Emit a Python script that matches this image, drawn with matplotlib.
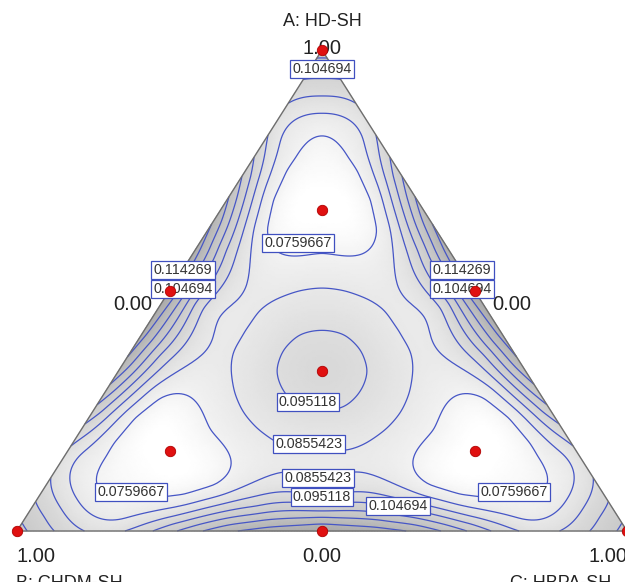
import itertools
import numpy as np
import matplotlib
matplotlib.use("Agg")
import matplotlib.pyplot as plt
import matplotlib.tri as mtri
from matplotlib.colors import LinearSegmentedColormap

plt.rcParams['font.family'] = ['Liberation Sans', 'DejaVu Sans']

# ---------------- data ----------------
axis_names = ["A: HD-SH", "B: CHDM-SH", "C: HBPA-SH"]

# design points (mixture proportions A, B, C)
design_A = [1.0, 0.0, 0.0, 0.5, 0.5, 0.0, 1/3, 2/3, 1/6, 1/6]
design_B = [0.0, 1.0, 0.0, 0.5, 0.0, 0.5, 1/3, 1/6, 2/3, 1/6]
design_C = [0.0, 0.0, 1.0, 0.0, 0.5, 0.5, 1/3, 1/6, 1/6, 2/3]

contour_levels = [0.0759667, 0.0855423, 0.095118, 0.104694, 0.114269, 0.123845, 0.13342]

# response read off the picture along the median centroid -> vertex
# (s = 0 centroid, 1 axial blend, 2 pure component)
vert_s = [0.0, 0.25, 0.52, 0.75, 1.0, 1.2, 1.46, 1.6, 1.71, 1.81, 1.95, 2.0]
vert_y = [0.0995, 0.0951, 0.0855, 0.0760, 0.0685, 0.0705, 0.0760, 0.0855, 0.0951,
          0.1047, 0.1143, 0.1180]
# along the median centroid -> opposite edge midpoint (s = 1 at the edge)
side_s = [0.26, 0.52, 0.60, 0.675, 0.79, 0.84, 0.875, 0.91, 0.95, 1.0]
side_y = [0.0951, 0.0855, 0.0830, 0.0855, 0.0951, 0.1047, 0.1143, 0.1238, 0.1334, 0.143]
# along a binary edge (C = 0), A from the edge midpoint to the vertex
edge_A = [0.5, 0.6, 0.65, 0.7, 0.74, 0.78, 0.82, 0.855, 0.89, 0.94, 0.984]
edge_y = [0.143, 0.137, 0.1334, 0.1238, 0.1143, 0.1047, 0.0960, 0.0915, 0.0951,
          0.1047, 0.1143]
# further readings (A, B, C) -> response: contour loop around an axial blend,
# the two rings round the centroid, lines along an edge and in a corner
extra_A = [0.2863, 0.2376, 0.1268, 0.0921, 0.0713, 0.0748, 0.0921, 0.1337, 0.2723,
           0.4138, 0.3922, 0.3337, 0.5007, 0.4560, 0.3333,
           0.583, 0.583, 0.583, 0.583,
           0.048, 0.029, 0.0166,
           0.819, 0.7505]
extra_B = [0.6006, 0.6906, 0.8006, 0.8261, 0.7737, 0.7064, 0.6266, 0.5840, 0.5749,
           0.2744, 0.2528, 0.2563, 0.2107, 0.1660, 0.1833,
           0.0085, 0.024, 0.037, 0.049,
           0.720, 0.730, 0.7364,
           0.1594, 0.1855]
extra_C = [0.1131, 0.0718, 0.0726, 0.0818, 0.1550, 0.2188, 0.2813, 0.2823, 0.1528,
           0.3117, 0.3549, 0.4100, 0.2884, 0.3780, 0.4834,
           0.4085, 0.393, 0.380, 0.368,
           0.232, 0.241, 0.247,
           0.0216, 0.0640]
extra_y = [0.0760, 0.0760, 0.0760, 0.0760, 0.0760, 0.0760, 0.0760, 0.0760, 0.0760,
           0.0951, 0.0951, 0.0951, 0.0855, 0.0855, 0.0855,
           0.1334, 0.1238, 0.1143, 0.1047,
           0.0855, 0.0951, 0.1047,
           0.0855, 0.0760]

# contour labels shown on the chart
label_text = ["0.104694", "0.0759667", "0.114269", "0.104694", "0.114269", "0.104694",
              "0.095118", "0.0855423", "0.0855423", "0.095118", "0.104694",
              "0.0759667", "0.0759667"]

# ---------------- layout ----------------
VA = np.array([322.0, 50.0])
VB = np.array([17.0, 531.0])
VC = np.array([627.0, 531.0])

label_pos = [(322, 69), (298, 243), (183, 270), (183, 289), (462, 270), (462, 289),
             (308, 402), (309, 444), (318, 478), (322, 497), (398, 506),
             (131, 492), (514, 492)]


def to_xy(A, B, C):
    A, B, C = np.asarray(A, float), np.asarray(B, float), np.asarray(C, float)
    x = A * VA[0] + B * VB[0] + C * VC[0]
    y = A * VA[1] + B * VB[1] + C * VC[1]
    return x, y


def to_eq(A, B, C):
    # equilateral simplex coordinates (side 1) used for the response surface
    A, C = np.asarray(A, float), np.asarray(C, float)
    return C + 0.5 * A, A * np.sqrt(3) / 2


# ---- assemble readings (the mixture surface is symmetric in A, B, C) ----
rA, rB, rC, rY = [1 / 3], [1 / 3], [1 / 3], [vert_y[0]]
for s, y in zip(vert_s[1:], vert_y[1:]):
    A = (1 + s) / 3
    rA.append(A); rB.append((1 - A) / 2); rC.append((1 - A) / 2); rY.append(y)
for s, y in zip(side_s, side_y):
    A = (1 - s) / 3
    rA.append(A); rB.append((1 - A) / 2); rC.append((1 - A) / 2); rY.append(y)
for x, y in zip(edge_A, edge_y):
    rA.append(x); rB.append(1 - x); rC.append(0.0); rY.append(y)
rA += extra_A; rB += extra_B; rC += extra_C; rY += extra_y

seen = {}
for a, b, c, y in zip(rA, rB, rC, rY):
    tot = a + b + c
    a, b, c = a / tot, b / tot, c / tot
    for perm in itertools.permutations((a, b, c)):
        key = tuple(np.round(perm, 5))
        if key not in seen:
            seen[key] = y
keys = np.array(list(seen.keys()))
vals = np.array(list(seen.values()))
px_, py_ = to_eq(keys[:, 0], keys[:, 1], keys[:, 2])
pts = np.column_stack([px_, py_])


def tps_kernel(r):
    with np.errstate(divide='ignore', invalid='ignore'):
        k = r * r * np.log(r)
    return np.nan_to_num(k)


# smoothing thin-plate response surface through the readings
SMOOTH = 1.5e-3
N = len(pts)
d = np.sqrt(((pts[:, None, :] - pts[None, :, :]) ** 2).sum(-1))
K = tps_kernel(d) + SMOOTH * np.eye(N)
Pm = np.column_stack([np.ones(N), pts])
M = np.zeros((N + 3, N + 3))
M[:N, :N] = K
M[:N, N:] = Pm
M[N:, :N] = Pm.T
rhs = np.concatenate([vals, np.zeros(3)])
sol = np.linalg.solve(M, rhs)
w, aff = sol[:N], sol[N:]

# grid on the simplex
n = 220
gi, gj = np.meshgrid(np.arange(n + 1), np.arange(n + 1))
mask = gi + gj <= n
gA = gi[mask] / n
gB = gj[mask] / n
gC = np.clip(1 - gA - gB, 0, 1)
ex, ey = to_eq(gA, gB, gC)
G = np.column_stack([ex, ey])
Z = np.empty(len(G))
for k0 in range(0, len(G), 4000):
    blk = G[k0:k0 + 4000]
    dd = np.sqrt(((blk[:, None, :] - pts[None, :, :]) ** 2).sum(-1))
    Z[k0:k0 + 4000] = tps_kernel(dd) @ w + aff[0] + blk @ aff[1:]
gx, gy = to_xy(gA, gB, gC)
triang = mtri.Triangulation(gx, gy)

# ---------------- drawing ----------------
fig = plt.figure(figsize=(6.25, 5.82), dpi=100)
ax = fig.add_axes([0, 0, 1, 1])
ax.set_xlim(0, 625)
ax.set_ylim(582, 0)
ax.axis('off')

vmin, vmax = 0.068, 0.145
stops = [(0.068, '#ffffff'), (0.078, '#f0f0f0'), (0.090, '#e4e4e4'), (0.100, '#d8d8d8'),
         (0.120, '#c6c6c6'), (0.145, '#a6a6a6')]
cmap = LinearSegmentedColormap.from_list(
    'g', [((v - vmin) / (vmax - vmin), c) for v, c in stops])
ax.tripcolor(triang, Z, shading='gouraud', cmap=cmap, vmin=vmin, vmax=vmax, zorder=1)
ax.tricontour(triang, Z, levels=contour_levels, colors='#4656c6', linewidths=0.9, zorder=2)

tx, ty = to_xy([1, 0, 0, 1], [0, 1, 0, 0], [0, 0, 1, 0])
ax.plot(tx, ty, color='#6e6e6e', lw=1.0, zorder=3)

for (px, py), t in zip(label_pos, label_text):
    ax.text(px, py, t, ha='center', va='center', fontsize=10.3, color='#333333', zorder=5,
            bbox=dict(boxstyle='square,pad=0.16', facecolor='white', edgecolor='#4050c0', lw=0.9))

dx, dy = to_xy(design_A, design_B, design_C)
ax.plot(dx, dy, 'o', ms=7.5, color='#e01010', mec='#b00000', mew=0.6, zorder=6, clip_on=False)

# axis annotations
num_fs = 14.5
name_fs = 13
ax.text(VA[0], 21, axis_names[0], ha='center', va='center', fontsize=name_fs, color='#222222')
ax.text(VA[0], 48, "1.00", ha='center', va='center', fontsize=num_fs, color='#222222', zorder=4)
ax.text(133, 304, "0.00", ha='center', va='center', fontsize=num_fs, color='#222222')
ax.text(512, 304, "0.00", ha='center', va='center', fontsize=num_fs, color='#222222')
ax.text(16, 557, "1.00", ha='left', va='center', fontsize=num_fs, color='#222222')
ax.text(322, 557, "0.00", ha='center', va='center', fontsize=num_fs, color='#222222')
ax.text(588, 557, "1.00", ha='left', va='center', fontsize=num_fs, color='#222222')
ax.text(16, 583, axis_names[1], ha='left', va='center', fontsize=name_fs, color='#222222')
ax.text(510, 583, axis_names[2], ha='left', va='center', fontsize=name_fs, color='#222222')

fig.savefig('out.png', dpi=100)
